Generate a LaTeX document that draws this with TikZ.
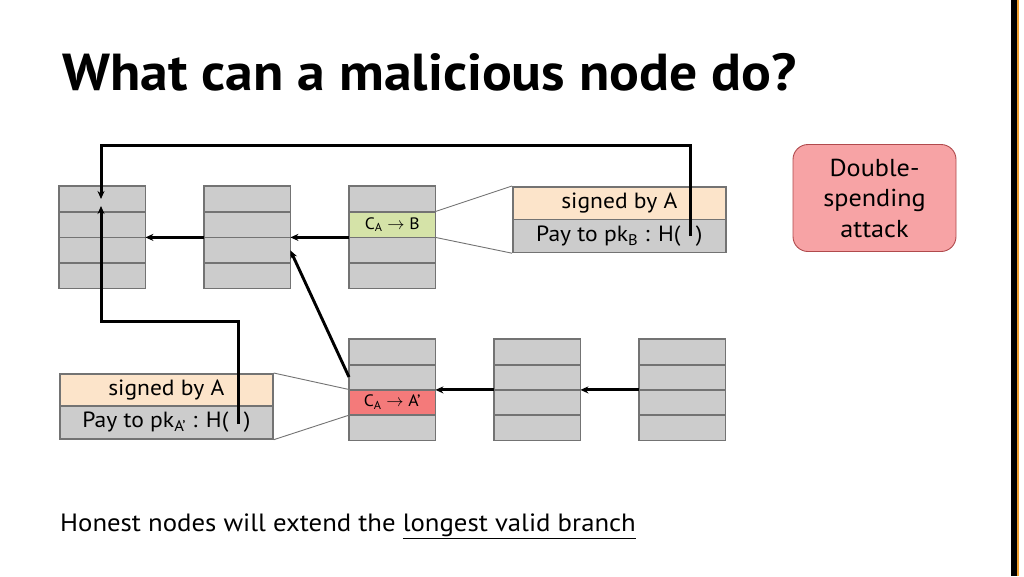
\documentclass[tikz,border=0pt]{standalone}
\usepackage{fontspec}
\setmainfont{PT Sans}[FakeStretch=1.07]
\usetikzlibrary{arrows.meta,calc}
\definecolor{blkgray}{HTML}{CCCCCC}
\definecolor{blkedge}{HTML}{737373}
\definecolor{peach}{HTML}{FCE4CA}
\definecolor{lgreen}{HTML}{D5E3A8}
\definecolor{lred}{HTML}{F47A7A}
\definecolor{dspink}{HTML}{F7A3A5}
\definecolor{dsedge}{HTML}{B04A4D}
\definecolor{barorange}{HTML}{F0A030}
\newcommand\chainblk[4]{%
  \foreach \i in {1,2,3,4} {\node[blockrow,minimum height=#4pt] (#1-\i) at (#2,{#3+(\i-1)*#4}) {};}%
}
\newcommand\blkframe[1]{%
  \draw[frameline] (#1-1.north west) rectangle (#1-4.south east);
  \foreach \i in {1,2,3} {\draw[frameline] (#1-\i.south west) -- (#1-\i.south east);}%
}
\begin{document}
\begin{tikzpicture}[x=1pt,y=-1pt,
  blockrow/.style={fill=blkgray,minimum width=86pt,inner sep=0pt,anchor=north west,font=\fontsize{16.5}{18}\selectfont},
  frameline/.style={draw=blkedge,line width=1.7pt},
  calrow/.style={draw=blkedge,line width=1.7pt,minimum width=213pt,inner sep=0pt,anchor=north west,font=\fontsize{22}{24}\selectfont},
  thinlink/.style={draw=blkedge,line width=0.9pt},
  chainarrow/.style={line width=2.9pt,-{Stealth[length=8pt,width=7pt]}},
  longarrow/.style={line width=3pt,-{Stealth[length=8pt,width=7pt]}},
]
\useasboundingbox (0,0) rectangle (1024,576);
\fill[white] (0,0) rectangle (1024,576);
% right bar
\fill[black] (1011,0) rectangle (1017,576);
\fill[barorange] (1017,0) rectangle (1019,576);

% title
\node[anchor=base west,inner sep=0pt,font=\fontsize{52}{56}\selectfont\bfseries] (title) at (62,90) {What can a malicious node do?};

% top chain
\chainblk{t1}{59}{186}{25.5}
\chainblk{t2}{204}{186}{25.5}
\chainblk{t3}{349}{186}{25.5}
\node[blockrow,minimum height=25.5pt,fill=lgreen] (t3-2) at (349,211.5) {C\textsubscript{A} $\rightarrow$ B};
\blkframe{t1}\blkframe{t2}\blkframe{t3}

% bottom chain
\chainblk{d1}{349}{339}{25.25}
\chainblk{d2}{494}{339}{25.25}
\chainblk{d3}{639}{339}{25.25}
\node[blockrow,minimum height=25.25pt,fill=lred] (d1-3) at (349,389.5) {C\textsubscript{A} $\rightarrow$ A’};
\blkframe{d1}\blkframe{d2}\blkframe{d3}

% top callout
\node[calrow,fill=peach,minimum height=32.5pt] (sA) at (512,186) {signed by A};
\node[calrow,fill=blkgray,minimum height=33pt] (pB) at (512,218.5) {Pay to pk\textsubscript{B} : H(\hspace{0.7em})};
\draw[thinlink] (t3-2.north east) -- (sA.north west);
\draw[thinlink] (t3-2.south east) -- (pB.south west);

% bottom callout
\node[calrow,fill=peach,minimum height=32pt] (sA2) at (59,373) {signed by A};
\node[calrow,fill=blkgray,minimum height=33pt] (pA2) at (59,405) {Pay to pk\textsubscript{A’} : H(\hspace{0.7em})};
\draw[thinlink] (sA2.north east) -- (d1-3.north west);
\draw[thinlink] (pA2.south east) -- (d1-3.south west);

% chain arrows
\draw[chainarrow] (t2-2.south west) -- (t1-2.south east);
\draw[chainarrow] (t3-2.south west) -- (t2-2.south east);
\draw[chainarrow] (d2-2.south west) -- (d1-2.south east);
\draw[chainarrow] (d3-2.south west) -- (d2-2.south east);
\draw[chainarrow] ($(d1-1.north west)+(0,38)$) -- ($(t2-2.south east)+(0,13)$);

% long arrows
\coordinate (hB) at (690,236);
\coordinate (tgtB) at (101,199);
\draw[longarrow] (hB) -- (690,145) -- (101,145) -- (tgtB);
\coordinate (hA) at (238,424);
\coordinate (tgtA) at (101,206);
\draw[longarrow] (hA) -- (238,321) -- (101,321) -- (tgtA);

% double spending
\node[draw=dsedge,line width=0.9pt,fill=dspink,rounded corners=15pt,minimum width=163pt,minimum height=107pt,inner sep=0pt,align=center,font=\fontsize{24.5}{30.5}\selectfont] (ds) at (874.5,198) {Double-\\spending\\attack};

% bottom text
\node[anchor=base west,inner sep=0pt,font=\fontsize{25}{28}\selectfont] (honest) at (60,531) {Honest nodes will extend the \underline{longest valid branch}};
\end{tikzpicture}
\end{document}
